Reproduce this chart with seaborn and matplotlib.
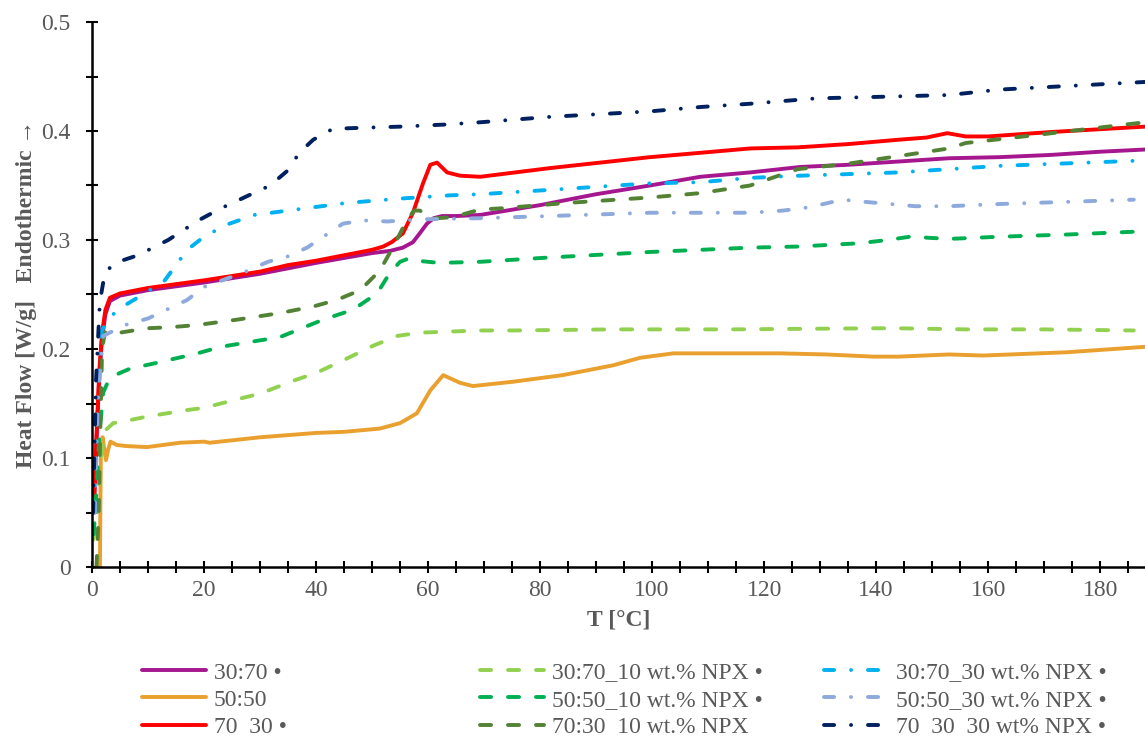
import numpy as np
import pandas as pd
import matplotlib
matplotlib.use("Agg")
import matplotlib.pyplot as plt
from matplotlib.ticker import MultipleLocator, FuncFormatter
import seaborn as sns

# ---------------- data ----------------
t_3070 = [0.3, 0.8, 1.3, 1.8, 2.4, 3.2, 5, 10, 20, 30, 35, 40, 50, 53.2, 55.5, 57.3, 58.5, 59.8, 61, 62.5, 65, 69.3,
          80, 90, 99.6, 108.6, 117.5, 126.4, 135, 144, 153, 162, 171, 180, 188]
y_3070 = [0.05, 0.115, 0.175, 0.21, 0.232, 0.244, 0.249, 0.254, 0.261, 0.269, 0.274, 0.279, 0.288, 0.29, 0.293, 0.298,
          0.306, 0.315, 0.32, 0.322, 0.322, 0.323, 0.332, 0.342, 0.35, 0.358, 0.362, 0.367, 0.369, 0.372, 0.375,
          0.376, 0.378, 0.381, 0.383]

t_5050 = [1.42, 1.5, 1.6, 1.9, 2.2, 2.5, 2.9, 3.3, 4.4, 6, 9.8, 15.7, 20, 21, 30, 40, 45, 51.4, 55, 58, 60.4, 62.7,
          65.7, 68, 75.2, 84, 93, 97.9, 103.8, 108, 114, 122.9, 131, 139.5, 144, 153, 159, 174, 188]
y_5050 = [0.0, 0.06, 0.11, 0.119, 0.108, 0.098, 0.108, 0.115, 0.112, 0.111, 0.11, 0.114, 0.115, 0.114, 0.119, 0.123,
          0.124, 0.127, 0.132, 0.141, 0.162, 0.176, 0.169, 0.166, 0.17, 0.176, 0.185, 0.192, 0.196, 0.196, 0.196,
          0.196, 0.195, 0.193, 0.193, 0.195, 0.194, 0.197, 0.202]

t_7030 = [0.3, 0.8, 1.3, 1.8, 2.4, 3.2, 5, 10, 20, 30, 35, 40, 50, 52, 53.5, 55.5, 57.3, 59.1, 60.4, 61.6, 63.4, 65.7,
          69.3, 81.8, 99.6, 108.6, 117.5, 126, 135, 144, 149, 152.7, 156, 160, 171, 188]
y_7030 = [0.05, 0.12, 0.18, 0.215, 0.236, 0.247, 0.251, 0.256, 0.263, 0.271, 0.277, 0.281, 0.291, 0.294, 0.298, 0.306,
          0.325, 0.352, 0.369, 0.371, 0.362, 0.359, 0.358, 0.366, 0.376, 0.38, 0.384, 0.385, 0.388, 0.392, 0.394,
          0.398, 0.395, 0.395, 0.399, 0.404]

t_3070_10 = [0.2, 0.7, 1.1, 1.6, 2.3, 3.8, 7, 9.8, 17, 20, 26, 30, 33, 36, 40, 45, 50.2, 54.5, 58.6, 69.3, 75, 93,
             114, 139.5, 144, 156, 170, 186]
y_3070_10 = [0.025, 0.04, 0.061, 0.1, 0.125, 0.132, 0.135, 0.138, 0.144, 0.146, 0.154, 0.159, 0.165, 0.171, 0.178,
             0.19, 0.203, 0.212, 0.215, 0.217, 0.217, 0.218, 0.218, 0.219, 0.219, 0.218, 0.218, 0.217]

t_5050_10 = [0.3, 0.8, 1.3, 2, 3.2, 6.8, 11.3, 18.8, 23, 33.6, 41.3, 46.6, 50.9, 53.2, 55, 56.5, 58, 62, 69.3, 81.8,
             99.6, 108.6, 117.5, 126, 137, 142, 146, 153, 162, 174, 188]
y_5050_10 = [0.03, 0.07, 0.12, 0.16, 0.174, 0.182, 0.187, 0.196, 0.202, 0.211, 0.227, 0.236, 0.251, 0.27, 0.28,
             0.283, 0.281, 0.279, 0.28, 0.284, 0.289, 0.291, 0.293, 0.294, 0.297, 0.3, 0.303, 0.301, 0.303, 0.305,
             0.308]

t_7030_10 = [0.8, 1.2, 1.5, 1.8, 2.3, 3.2, 5, 9.8, 14, 18.8, 26, 33.6, 39.5, 43.7, 47.9, 51.4, 53.8, 56.2, 57.5,
             58.5, 60, 61.6, 64.5, 69.3, 72.9, 84.8, 99.6, 108.6, 117.5, 122, 126, 135, 144, 153, 156, 168, 173, 188]
y_7030_10 = [0.0, 0.05, 0.13, 0.2, 0.215, 0.217, 0.215, 0.219, 0.22, 0.222, 0.227, 0.233, 0.239, 0.245, 0.254,
             0.272, 0.294, 0.318, 0.327, 0.327, 0.323, 0.32, 0.321, 0.328, 0.329, 0.334, 0.339, 0.343, 0.35, 0.358,
             0.365, 0.37, 0.377, 0.384, 0.389, 0.396, 0.399, 0.408]

t_3070_30 = [0.5, 1, 1.6, 2.9, 5.2, 8.75, 13, 17, 20, 24, 29, 35, 45.5, 55, 64, 69.3, 81.8, 99.6, 108.6, 117.5,
             126.4, 144, 153, 162, 188]
y_3070_30 = [0.05, 0.15, 0.215, 0.228, 0.238, 0.249, 0.263, 0.291, 0.303, 0.314, 0.323, 0.327, 0.334, 0.338, 0.341,
             0.342, 0.346, 0.352, 0.353, 0.357, 0.359, 0.362, 0.365, 0.368, 0.373]

t_5050_30 = [0.5, 1, 2, 5.9, 10, 17, 20, 27, 31.4, 35, 38.4, 41.3, 44.8, 48.4, 52.7, 59, 69.3, 81.8, 99.6, 117.5,
             123.4, 128, 134, 138, 147, 153, 162, 186]
y_5050_30 = [0.05, 0.15, 0.212, 0.222, 0.228, 0.245, 0.257, 0.27, 0.28, 0.285, 0.293, 0.303, 0.315, 0.318, 0.317,
             0.319, 0.32, 0.322, 0.325, 0.325, 0.327, 0.33, 0.337, 0.335, 0.331, 0.331, 0.333, 0.337]

t_7030_30 = [0.2, 0.7, 1.4, 2.3, 4.1, 8.2, 13.6, 19, 23, 28, 31.8, 35, 37, 39.5, 43, 48.4, 55, 63.4, 69.3, 81.8,
             99.6, 108.6, 117.5, 124.6, 129.5, 138, 153, 162, 188]
y_7030_30 = [0.05, 0.169, 0.243, 0.27, 0.279, 0.286, 0.3, 0.318, 0.329, 0.341, 0.35, 0.364, 0.38, 0.392, 0.402,
             0.403, 0.404, 0.406, 0.408, 0.413, 0.418, 0.422, 0.425, 0.428, 0.43, 0.431, 0.433, 0.438, 0.445]

labels = ["30:70 •", "50:50", "70  30 •",
          "30:70_10 wt.% NPX •", "50:50_10 wt.% NPX •", "70:30  10 wt.% NPX",
          "30:70_30 wt.% NPX •", "50:50_30 wt.% NPX •", "70  30  30 wt% NPX •"]
x_ticks = [0, 20, 40, 60, 80, 100, 120, 140, 160, 180]
y_ticks = [0, 0.1, 0.2, 0.3, 0.4, 0.5]

# ---------------- styling ----------------
sns.set_theme(style="white")
plt.rcParams["font.family"] = ["Liberation Serif", "DejaVu Serif"]
GRAY = "#595959"

series = [
    (t_3070, y_3070, "#A5168F", "solid"),
    (t_5050, y_5050, "#E9A02E", "solid"),
    (t_7030, y_7030, "#FF0000", "solid"),
    (t_3070_10, y_3070_10, "#92D050", "dash"),
    (t_5050_10, y_5050_10, "#00B050", "dash"),
    (t_7030_10, y_7030_10, "#548235", "dash"),
    (t_3070_30, y_3070_30, "#00B0F0", "dashdot"),
    (t_5050_30, y_5050_30, "#8EA9DB", "dashdot"),
    (t_7030_30, y_7030_30, "#002060", "dashdot"),
]
dash_map = {"solid": "-", "dash": (0, (2.85, 4.35)), "dashdot": (0, (2.6, 4.35, 0.01, 4.35))}

fig = plt.figure(figsize=(11.45, 7.38), dpi=100)
ax = fig.add_axes([92 / 1145, 1 - 567 / 738, 1 - 92 / 1145, (567 - 22) / 738])

LW = 2.8
for (t, y, c, st), lab in zip(series, labels):
    df = pd.DataFrame({"T": t, "HF": y})
    sns.lineplot(data=df, x="T", y="HF", ax=ax, color=c, linewidth=LW, linestyle=dash_map[st],
                 label=lab, sort=False, estimator=None, legend=False,
                 dash_capstyle="round", solid_capstyle="round")

ax.set_xlim(0, 188)
ax.set_ylim(0, 0.5)
ax.set_xticks(x_ticks)
ax.set_yticks(y_ticks)
ax.xaxis.set_minor_locator(MultipleLocator(5))
ax.yaxis.set_minor_locator(MultipleLocator(0.05))
ax.yaxis.set_major_formatter(FuncFormatter(lambda v, p: "0" if abs(v) < 1e-9 else f"{v:.1f}"))
ax.tick_params(which="both", direction="inout", length=9, width=1.5, color="black",
               labelcolor=GRAY, labelsize=17)
ax.tick_params(axis="x", which="both", bottom=True, pad=5)
ax.tick_params(axis="y", which="both", left=True, pad=11)
for s in ["top", "right"]:
    ax.spines[s].set_visible(False)
for s in ["left", "bottom"]:
    ax.spines[s].set_color("black")
    ax.spines[s].set_linewidth(1.8)

ax.set_xlabel("T [°C]", fontsize=17, fontweight="bold", color=GRAY, labelpad=6)
ax.set_ylabel("Heat Flow [W/g]   Endothermic →", fontsize=17, fontweight="bold", color=GRAY, labelpad=3)

handles, labs = ax.get_legend_handles_labels()
col_x = [142, 480, 824]
for i, xpx in enumerate(col_x):
    fig.legend(handles[3 * i:3 * i + 3], labs[3 * i:3 * i + 3], loc="upper left",
               bbox_to_anchor=(xpx / 1145, 1 - 662 / 738), frameon=False, fontsize=17,
               labelcolor=GRAY, handlelength=2.7, handletextpad=0.35, labelspacing=0.24,
               borderpad=0, borderaxespad=0)

fig.savefig("out.png", dpi=100)
